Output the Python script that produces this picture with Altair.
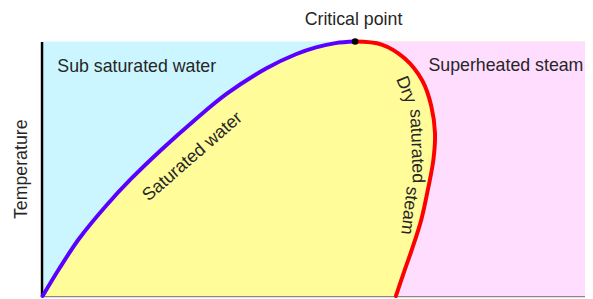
import altair as alt
import pandas as pd

# Saturated liquid line (entropy s, temperature T)
liquid_s = [0.02, 0.33, 0.69, 1.18, 1.65, 2.20, 2.81, 3.41, 4.14, 4.68, 5.05, 5.41, 5.77]
liquid_T = [0.0, 10.9, 22.5, 35.3, 46.1, 57.4, 69.0, 79.5, 89.5, 95.0, 97.7, 99.4, 100.0]

# Dry saturated vapour line
vapour_s = [5.77, 6.26, 6.68, 7.01, 7.17, 7.24, 7.21, 7.11, 6.99, 6.82, 6.68, 6.52]
vapour_T = [100.0, 98.8, 93.4, 84.5, 74.8, 64.0, 53.5, 41.9, 30.2, 18.6, 10.1, 0.0]

# Critical point
crit_s = [5.77]
crit_T = [100.0]

# Region labels (left aligned)
region_text = ["Sub saturated water", "Superheated steam"]
region_s = [0.29, 7.12]
region_T = [89.9, 90.3]

# Curve labels (centred, rotated)
curve_text = ["Critical point", "Saturated water", "Dry", "saturated", "steam"]
curve_s = [5.74, 2.78, 6.70, 6.90, 6.76]
curve_T = [108.5, 54.7, 81.0, 58.9, 33.6]
curve_angle = [0, 319, 68, 88, 97]

S_MAX = 10
T_MAX = 100
FONT = "Liberation Sans"
FS = 18
TXT = "#262626"

liquid = pd.DataFrame({"s": liquid_s, "T": liquid_T})
vapour = pd.DataFrame({"s": vapour_s, "T": vapour_T})
crit = pd.DataFrame({"s": crit_s, "T": crit_T})
regions = pd.DataFrame({"text": region_text, "s": region_s, "T": region_T})
curves = pd.DataFrame({"text": curve_text, "s": curve_s, "T": curve_T, "angle": curve_angle})

xs = alt.Scale(domain=[0, S_MAX], nice=False, zero=False)
ys = alt.Scale(domain=[0, T_MAX], nice=False, zero=False)

X = alt.X("s:Q", scale=xs,
          axis=alt.Axis(title=None, labels=False, ticks=False, grid=False,
                        domainColor="#888888", domainWidth=1.5))
Y = alt.Y("T:Q", scale=ys,
          axis=alt.Axis(title="Temperature", labels=False, ticks=False, grid=False,
                        domainColor="#000000", domainWidth=2.5,
                        titleFont=FONT, titleFontSize=FS, titleFontWeight="normal",
                        titleColor=TXT, titlePadding=11))

wet_area = alt.Chart(liquid).mark_area(
    orient="horizontal", interpolate="catmull-rom", color="#FFFC99"
).encode(x=X, x2=alt.datum(S_MAX), y=Y)

super_area = alt.Chart(vapour).mark_area(
    orient="horizontal", interpolate="catmull-rom", color="#FFDDFF"
).encode(x=alt.X("s:Q", scale=xs), x2=alt.datum(S_MAX), y=alt.Y("T:Q", scale=ys))

liquid_line = alt.Chart(liquid).mark_line(
    interpolate="catmull-rom", color="#5A00FF", strokeWidth=4, strokeCap="round"
).encode(x=alt.X("s:Q", scale=xs), y=alt.Y("T:Q", scale=ys),
         order=alt.Order("T:Q"))

vapour_line = alt.Chart(vapour).mark_line(
    interpolate="catmull-rom", color="#FF0000", strokeWidth=4, strokeCap="round"
).encode(x=alt.X("s:Q", scale=xs), y=alt.Y("T:Q", scale=ys),
         order=alt.Order("T:Q"))

dot = alt.Chart(crit).mark_point(filled=True, color="#000000", size=45, opacity=1).encode(
    x=alt.X("s:Q", scale=xs), y=alt.Y("T:Q", scale=ys))

region_labels = alt.Chart(regions).mark_text(
    align="left", baseline="middle", font=FONT, fontSize=FS, color=TXT
).encode(x=alt.X("s:Q", scale=xs), y=alt.Y("T:Q", scale=ys), text="text:N")

curve_labels = alt.Chart(curves).mark_text(
    align="center", baseline="middle", font=FONT, fontSize=FS, color=TXT
).encode(x=alt.X("s:Q", scale=xs), y=alt.Y("T:Q", scale=ys), text="text:N",
         angle=alt.Angle("angle:Q", scale=None))

chart = alt.layer(
    wet_area, super_area, liquid_line, vapour_line, dot, region_labels, curve_labels
).properties(
    width=551, height=258,
    autosize=alt.AutoSizeParams(type="none"),
    padding={"left": 34, "top": 32, "right": 0, "bottom": 1},
    background="#FFFFFF",
).configure_view(fill="#CCF6FF", stroke=None)

chart.save("out.html", embed_options={"renderer": "svg", "actions": False})
